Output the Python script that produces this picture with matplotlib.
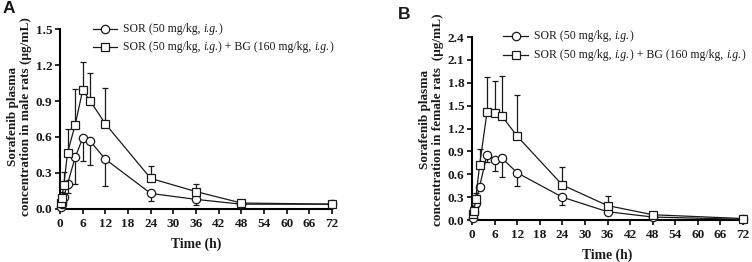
import matplotlib
matplotlib.use("Agg")
import matplotlib.pyplot as plt
from matplotlib.lines import Line2D
from matplotlib.offsetbox import (AnchoredOffsetbox, DrawingArea, HPacker,
                                  TextArea)
import numpy as np

plt.rcParams['font.family'] = ['Liberation Serif', 'DejaVu Serif']

# sampling times (h)
time_h = [0.25, 0.5, 1, 2, 4, 6, 8, 12, 24, 36, 48, 72]

# male rats (panel A)
male_sor = [0.02, 0.04, 0.10, 0.21, 0.43, 0.59, 0.565, 0.415, 0.13, 0.08, 0.04, 0.04]
male_sor_err = [0.01, 0.02, 0.04, 0.08, 0.22, 0.19, 0.20, 0.22, 0.06, 0.05, 0.01, 0.01]
male_bg = [0.05, 0.09, 0.20, 0.47, 0.70, 0.99, 0.90, 0.71, 0.255, 0.145, 0.05, 0.04]
male_bg_err = [0.02, 0.05, 0.11, 0.20, 0.30, 0.235, 0.235, 0.295, 0.10, 0.065, 0.01, 0.01]

# female rats (panel B)
female_sor = [0.03, 0.10, 0.23, 0.44, 0.86, 0.79, 0.81, 0.62, 0.30, 0.11, 0.04, 0.01]
female_sor_err = [0.01, 0.03, 0.06, 0.05, 0.10, 0.15, 0.25, 0.17, 0.10, 0.03, 0.01, 0.005]
female_bg = [0.08, 0.12, 0.28, 0.72, 1.42, 1.40, 1.36, 1.10, 0.46, 0.19, 0.07, 0.02]
female_bg_err = [0.03, 0.05, 0.08, 0.21, 0.45, 0.43, 0.53, 0.54, 0.23, 0.12, 0.02, 0.01]

x_ticks = list(range(0, 73, 6))

# legend labels as (text, italic) pieces
label_sor = [("SOR (50 mg/kg, ", False), ("i.g.", True), (")", False)]
label_bg = [("SOR (50 mg/kg, ", False), ("i.g.", True), (") + BG (160 mg/kg, ", False),
            ("i.g.", True), (")", False)]

INK = '#1a1a1a'
LW = 0.9


def legend_row(fig, x, y, marker, pieces, handle_w=17):
    da = DrawingArea(handle_w, 8, 0, 0)
    da.add_artist(Line2D([0, handle_w], [4, 4], color=INK, lw=LW))
    da.add_artist(Line2D([handle_w / 2], [4], marker=marker, ms=6, mfc='white',
                         mec=INK, mew=LW, ls='none'))
    txt = []
    for s, it in pieces:
        txt.append(TextArea(s, textprops=dict(fontsize=8.5, color=INK,
                                              fontstyle='italic' if it else 'normal')))
    text_box = HPacker(children=txt, align='baseline', pad=0, sep=0)
    row = HPacker(children=[da, text_box], align='center', pad=0, sep=4.5)
    box = AnchoredOffsetbox(loc='center left', child=row, pad=0, borderpad=0,
                            frameon=False, bbox_to_anchor=(x, y),
                            bbox_transform=fig.transFigure)
    fig.add_artist(box)


def draw_panel(ax, sor, sor_err, bg, bg_err, ymax, ylabel, label_y):
    zeros = np.zeros(len(time_h))
    # SOR error bars below, SOR+BG error bars above
    ax.errorbar(time_h, sor, yerr=[sor_err, zeros], fmt='none', ecolor=INK,
                elinewidth=LW, capsize=2.5, capthick=LW, zorder=2)
    ax.errorbar(time_h, bg, yerr=[zeros, bg_err], fmt='none', ecolor=INK,
                elinewidth=LW, capsize=2.5, capthick=LW, zorder=2)
    ax.plot(time_h, sor, '-o', color=INK, lw=LW, ms=6, mfc='white',
            mec=INK, mew=LW, zorder=3, clip_on=False)
    ax.plot(time_h, bg, '-s', color=INK, lw=LW, ms=6, mfc='white',
            mec=INK, mew=LW, zorder=3, clip_on=False)

    ax.set_xlim(0, 72)
    ax.set_ylim(0, ymax)
    ax.set_xticks(x_ticks)
    ax.set_yticks(np.arange(0, ymax + 0.01, 0.3))
    ax.yaxis.set_major_formatter(matplotlib.ticker.FormatStrFormatter('%.1f'))
    for s in ['top', 'right']:
        ax.spines[s].set_visible(False)
    for s in ['left', 'bottom']:
        ax.spines[s].set_linewidth(1.5)
    ax.tick_params(width=1.3, length=3.6, labelsize=9.5, pad=2, colors=INK)
    ax.tick_params(axis='x', pad=3)
    for lab in ax.get_xticklabels() + ax.get_yticklabels():
        lab.set_fontweight('bold')
    ax.set_xlabel('Time (h)', fontsize=9.8, fontweight='bold', labelpad=5, color=INK)
    ax.set_ylabel(ylabel, fontsize=9.5, fontweight='bold', linespacing=1.1, color=INK)
    ax.yaxis.set_label_coords(-0.103, label_y)


fig = plt.figure(figsize=(7.52, 2.62), dpi=100)
ax_a = fig.add_axes([0.0798, 0.2023, 0.3617, 0.687])
ax_b = fig.add_axes([0.6277, 0.160, 0.3604, 0.6985])

draw_panel(ax_a, male_sor, male_sor_err, male_bg, male_bg_err, 1.5,
           'Sorafenib plasma\nconcentration in male rats (\u03bcg/mL)', 0.515)
draw_panel(ax_b, female_sor, female_sor_err, female_bg, female_bg_err, 2.4,
           'Sorafenib plasma\nconcentration in female rats  (\u03bcg/mL)', 0.55)

legend_row(fig, 93 / 752, 1 - 29 / 262, 'o', label_sor)
legend_row(fig, 93 / 752, 1 - 47 / 262, 's', label_bg)
legend_row(fig, 503 / 752, 1 - 36 / 262, 'o', label_sor, handle_w=18)
legend_row(fig, 503 / 752, 1 - 55 / 262, 's', label_bg, handle_w=18)

fig.text(0.003, 0.998, 'A', fontsize=12.5, fontweight='bold', va='top',
         family='Liberation Sans', color=INK)
fig.text(0.529, 0.975, 'B', fontsize=12.5, fontweight='bold', va='top',
         family='Liberation Sans', color=INK)

fig.savefig('out.png', dpi=100)
